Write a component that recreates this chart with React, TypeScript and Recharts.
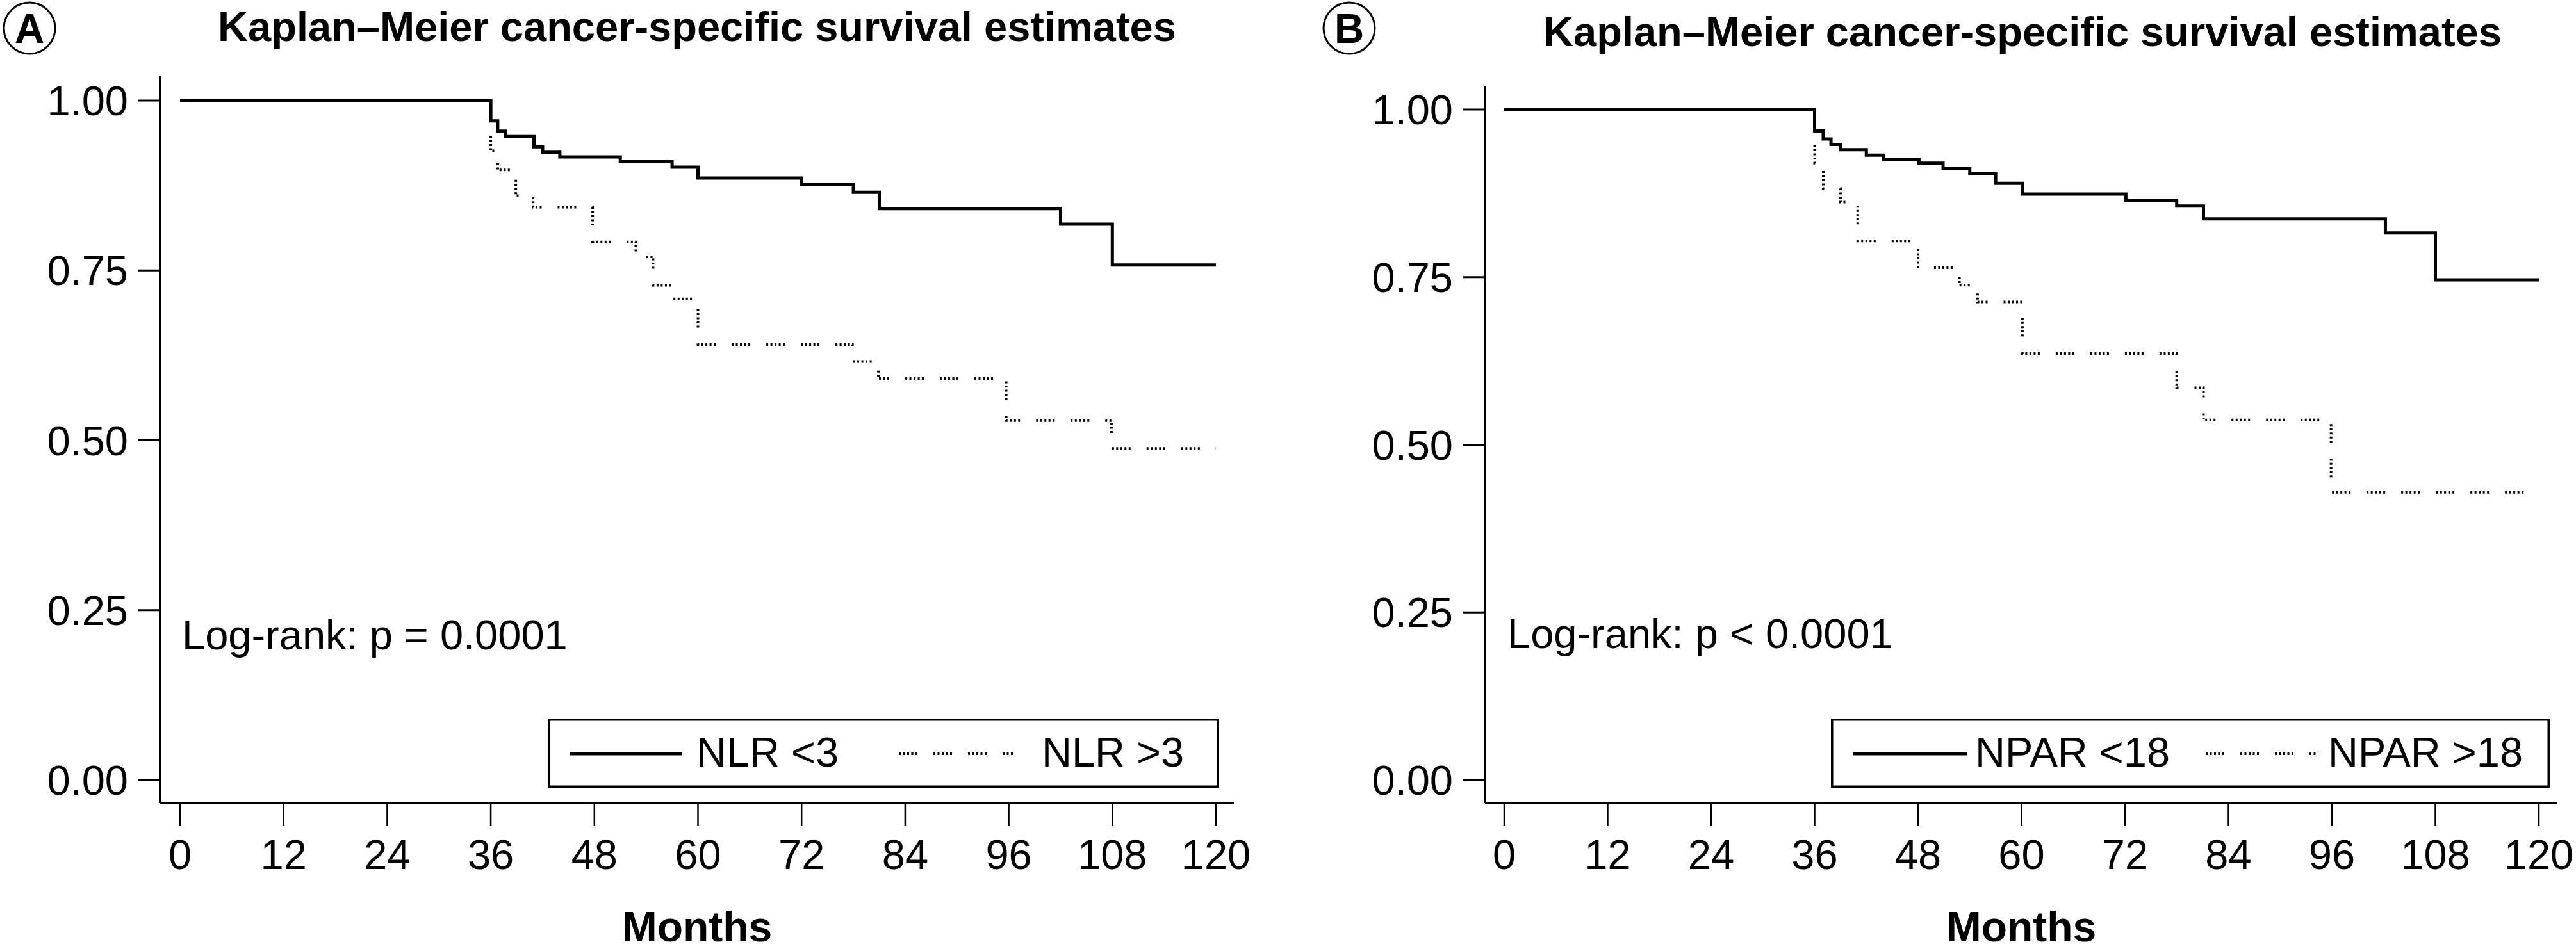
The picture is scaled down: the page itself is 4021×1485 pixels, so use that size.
import React from 'react';
import { LineChart, Line, XAxis, YAxis, Legend } from 'recharts';

const FONT = '"Liberation Sans", Arial, Helvetica, sans-serif';

// ---- axis ticks ----
const monthTicks = [0, 12, 24, 36, 48, 60, 72, 84, 96, 108, 120];
const survivalTicks = [0, 0.25, 0.5, 0.75, 1];

// ---- Panel A: NLR ----
const nlrLowMonths = [0, 36, 36.8, 37.7, 41, 42, 44, 51, 57, 60, 72, 78, 81, 102, 108, 120];
const nlrLowSurvival = [1, 0.97, 0.955, 0.947, 0.932, 0.924, 0.917, 0.91, 0.902, 0.886, 0.876, 0.865, 0.841, 0.818, 0.758, 0.758];

const nlrHighMonths = [0, 36, 36.8, 38.9, 40.9, 47.8, 52.8, 54.8, 56.9, 60, 77.9, 80.9, 95.7, 107.9, 120];
const nlrHighSurvival = [1, 0.926, 0.898, 0.86, 0.843, 0.792, 0.77, 0.728, 0.708, 0.641, 0.616, 0.591, 0.529, 0.488, 0.488];

// ---- Panel B: NPAR ----
const nparLowMonths = [0, 36, 37, 37.9, 39, 42, 44, 48.1, 50.9, 54, 57, 60.1, 72.1, 78, 81.1, 102.2, 108, 120];
const nparLowSurvival = [1, 0.968, 0.956, 0.948, 0.94, 0.932, 0.926, 0.92, 0.912, 0.904, 0.89, 0.874, 0.864, 0.856, 0.837, 0.816, 0.746, 0.746];

const nparHighMonths = [0, 36, 37, 39, 41, 48, 52.8, 54.9, 60.1, 78, 81.1, 95.9, 120];
const nparHighSurvival = [1, 0.92, 0.882, 0.862, 0.804, 0.764, 0.738, 0.713, 0.636, 0.585, 0.537, 0.429, 0.429];

const toRows = (months: number[], surv: number[]) =>
  months.map((m, i) => ({ month: m, survival: surv[i] }));

const DOTTED = '3 3.5 3 3.5 3 3.5 3 3.5 3 25';

type LegendGeom = {
  left: number; top: number; w: number; h: number;
  s1: number; s2: number; t1: number; d1: number; d2: number; t2: number;
  label1: string; label2: string;
};

const makeLegend = (g: LegendGeom) => () => (
  <svg width={g.w} height={g.h} style={{ display: 'block' }}>
    <rect x={1.75} y={1.75} width={g.w - 3.5} height={g.h - 3.5} fill="#fff" stroke="#000" strokeWidth={3.5} />
    <line x1={g.s1} x2={g.s2} y1={55} y2={55} stroke="#000" strokeWidth={5} />
    <text x={g.t1} y={75} fontSize={65} fontFamily={FONT} fill="#000">{g.label1}</text>
    <line x1={g.d1} x2={g.d2} y1={55} y2={55} stroke="#000" strokeWidth={4} strokeDasharray={DOTTED} />
    <text x={g.t2} y={75} fontSize={65} fontFamily={FONT} fill="#000">{g.label2}</text>
  </svg>
);

type PanelProps = {
  left: number; width: number; marginTop: number; marginRight: number; yAxisWidth: number;
  xPad: { left: number; right: number }; yPad: { top: number; bottom: number };
  low: { month: number; survival: number }[]; high: { month: number; survival: number }[];
  legend: LegendGeom;
};

const Panel = (p: PanelProps) => (
  <div style={{ position: 'absolute', left: p.left, top: 0 }}>
    <LineChart
      width={p.width}
      height={1485}
      margin={{ top: p.marginTop, right: p.marginRight, bottom: 0, left: 0 }}
    >
      <XAxis
        type="number"
        dataKey="month"
        domain={[0, 120]}
        ticks={monthTicks}
        interval={0}
        padding={p.xPad}
        height={231}
        tickSize={36}
        tickMargin={21}
        axisLine={{ stroke: '#000', strokeWidth: 4 }}
        tickLine={{ stroke: '#000', strokeWidth: 2.5 }}
        tick={{ fill: '#000', fontSize: 65, fontFamily: FONT }}
        label={{ value: 'Months', position: 'insideBottom', offset: 15, fill: '#000', fontSize: 66, fontWeight: 700, fontFamily: FONT }}
      />
      <YAxis
        type="number"
        dataKey="survival"
        domain={[0, 1]}
        ticks={survivalTicks}
        interval={0}
        padding={p.yPad}
        width={p.yAxisWidth}
        tickSize={34}
        tickMargin={16}
        tickFormatter={(v: number) => v.toFixed(2)}
        axisLine={{ stroke: '#000', strokeWidth: 4 }}
        tickLine={{ stroke: '#000', strokeWidth: 3 }}
        tick={{ fill: '#000', fontSize: 65, fontFamily: FONT }}
      />
      <Line
        data={p.high}
        dataKey="survival"
        type="stepAfter"
        stroke="#000"
        strokeWidth={4}
        strokeDasharray={DOTTED}
        dot={false}
        activeDot={false}
        isAnimationActive={false}
        strokeLinecap="butt"
      />
      <Line
        data={p.low}
        dataKey="survival"
        type="stepAfter"
        stroke="#000"
        strokeWidth={5}
        dot={false}
        activeDot={false}
        isAnimationActive={false}
        strokeLinecap="butt"
        strokeLinejoin="miter"
      />
      <Legend
        layout="vertical"
        align="center"
        verticalAlign="middle"
        content={makeLegend(p.legend)}
        wrapperStyle={{ position: 'absolute', left: p.legend.left, top: p.legend.top, width: p.legend.w, height: p.legend.h, margin: 0, padding: 0 }}
      />
    </LineChart>
  </div>
);

const legendA: LegendGeom = {
  left: 855, top: 1122, w: 1048, h: 108,
  s1: 34, s2: 210, t1: 232, d1: 548, d2: 727, t2: 771,
  label1: 'NLR <3', label2: 'NLR >3',
};

const legendB: LegendGeom = {
  left: 818, top: 1122, w: 1122, h: 108,
  s1: 34, s2: 213, t1: 225, d1: 585, d2: 761, t2: 776,
  label1: 'NPAR <18', label2: 'NPAR >18',
};

export default function App() {
  return (
    <div style={{ position: 'absolute', left: 0, top: 0, width: 4021, height: 1485, background: '#fff', overflow: 'hidden', fontFamily: FONT }}>
      <Panel
        left={0}
        width={1990}
        marginTop={118}
        marginRight={64}
        yAxisWidth={250}
        xPad={{ left: 31, right: 28 }}
        yPad={{ top: 39, bottom: 36 }}
        low={toRows(nlrLowMonths, nlrLowSurvival)}
        high={toRows(nlrHighMonths, nlrHighSurvival)}
        legend={legendA}
      />
      <Panel
        left={2040}
        width={1981}
        marginTop={135}
        marginRight={29}
        yAxisWidth={278}
        xPad={{ left: 30, right: 29 }}
        yPad={{ top: 36, bottom: 36 }}
        low={toRows(nparLowMonths, nparLowSurvival)}
        high={toRows(nparHighMonths, nparHighSurvival)}
        legend={legendB}
      />
      <svg width={4021} height={1485} style={{ position: 'absolute', left: 0, top: 0, pointerEvents: 'none' }}>
        <circle cx={46} cy={44} r={40} fill="none" stroke="#000" strokeWidth={3} />
        <text x={46} y={67} textAnchor="middle" fontSize={64} fontWeight={700} fontFamily={FONT} fill="#000">A</text>
        <text x={1088} y={64} textAnchor="middle" fontSize={65} fontWeight={700} fontFamily={FONT} fill="#000">Kaplan–Meier cancer-specific survival estimates</text>
        <text x={284} y={1014} fontSize={65} fontFamily={FONT} fill="#000">Log-rank: p = 0.0001</text>

        <circle cx={2106} cy={44} r={40} fill="none" stroke="#000" strokeWidth={3} />
        <text x={2106} y={67} textAnchor="middle" fontSize={64} fontWeight={700} fontFamily={FONT} fill="#000">B</text>
        <text x={3157} y={72} textAnchor="middle" fontSize={65} fontWeight={700} fontFamily={FONT} fill="#000">Kaplan–Meier cancer-specific survival estimates</text>
        <text x={2353} y={1012} fontSize={65} fontFamily={FONT} fill="#000">Log-rank: p &lt; 0.0001</text>
      </svg>
    </div>
  );
}
